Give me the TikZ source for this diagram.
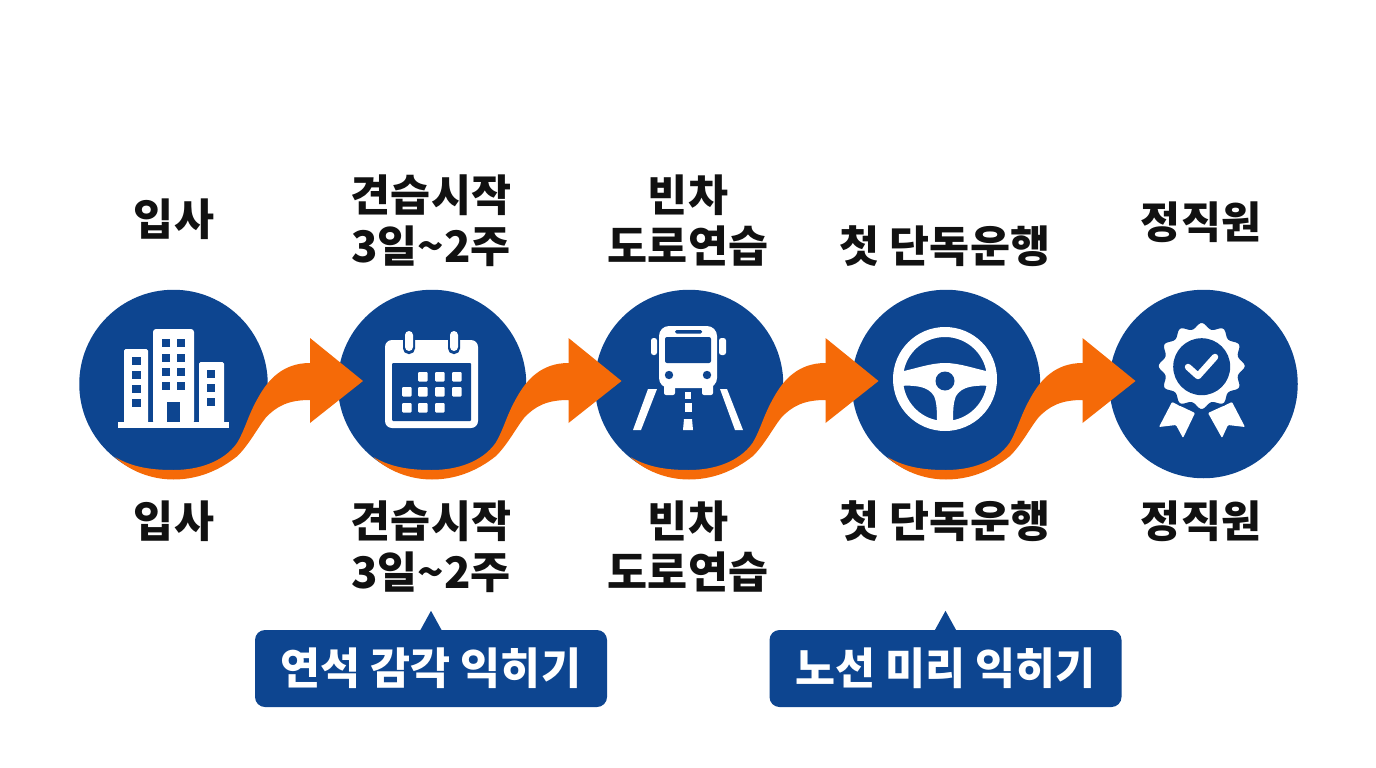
\documentclass[tikz,border=0pt]{standalone}
\usepackage{fontspec}
\setmainfont{Noto Sans CJK KR}
\definecolor{navy}{HTML}{0D4590}
\definecolor{flow}{HTML}{F56A08}
\definecolor{ink}{HTML}{111111}
\tikzset{
  disc/.style={circle,fill=navy,draw=none,minimum size=188.5pt,inner sep=0pt},
  lbl/.style={font=\fontsize{43.5}{51}\selectfont\bfseries,text=ink,align=center,inner sep=0pt},
  tag/.style={rectangle,rounded corners=10pt,fill=navy,text=white,minimum width=352pt,minimum height=77pt,
    font=\fontsize{43.5}{46}\selectfont\bfseries,inner sep=0pt},
  icon/.style={fill=white,draw=none},
  hole/.style={fill=navy,draw=none}
}
\begin{document}
\begin{tikzpicture}[x=1pt,y=-1pt]
\useasboundingbox (0,0) rectangle (1376,768);
\fill[white] (0,0) rectangle (1376,768);
% discs
\node[disc] (c1) at (173.5,384) {};
\node[disc] (c2) at (432,384) {};
\node[disc] (c3) at (689,384) {};
\node[disc] (c4) at (946,384) {};
\node[disc] (c5) at (1203.5,384) {};
% flow arrows
\foreach \i in {1,2,3,4}{
\begin{scope}[shift={(c\i.center)}]
\fill[flow] (-58.5,73) .. controls (-40,84) and (-20,86) .. (0,86)
  .. controls (25,86) and (50,78) .. (63.5,59)
  .. controls (72,45) and (74,32) .. (85,13)
  .. controls (95,-5) and (110,-21) .. (136.5,-21)
  -- (136.5,-46) -- (189.5,-3) -- (136.5,39) -- (136.5,16)
  .. controls (115,16) and (103,22) .. (92,34)
  .. controls (84,44) and (76,60) .. (64,72)
  .. controls (44,88) and (22,95.5) .. (0,95.5)
  .. controls (-22,95.5) and (-44,87) .. (-58.5,73) -- cycle;
\end{scope}}
% building
\fill[icon] (118,422) rectangle (229,428);
\fill[icon,rounded corners=1.5pt] (124,349) rectangle (148,424);
\fill[icon,rounded corners=3pt] (153,329) rectangle (194,424);
\fill[icon,rounded corners=1.5pt] (199,362) rectangle (224,424);
\foreach \y in {357,371,385,399} \fill[hole] (132,\y) rectangle +(9,7.5);
\foreach \y in {339,354,368,382} {\fill[hole] (162,\y) rectangle +(8,7.5); \fill[hole] (177,\y) rectangle +(8,7.5);}
\fill[hole] (167,402) rectangle (180,422);
\foreach \y in {370,384,398} \fill[hole] (207,\y) rectangle +(7.5,8);
% calendar
\fill[icon,rounded corners=7pt] (385,340) rectangle (478,428);
\fill[hole,rounded corners=1pt] (392,363) rectangle (471,421);
\foreach \x in {409,454}{
  \fill[hole,rounded corners=5.5pt] (\x-6,329) rectangle (\x+6,354);
  \fill[icon,rounded corners=4pt] (\x-4,331) rectangle (\x+4,351);}
\foreach \x/\y in {418/372,435/372,452/372,402/387,418/387,435/387,452/387,402/403,418/403,435/403}
  \fill[icon,rounded corners=1pt] (\x,\y) rectangle +(9.5,9.5);
% bus
\fill[icon,rounded corners=10pt] (659,326) rectangle (717,388);
\fill[icon,rounded corners=2pt] (664,380) rectangle (675,395);
\fill[icon,rounded corners=2pt] (702,380) rectangle (713,395);
\fill[hole,rounded corners=2pt] (665,337) rectangle (711,363);
\fill[hole,rounded corners=1.5pt] (675,330) rectangle (702,333.5);
\fill[icon,rounded corners=2.5pt] (651,338) rectangle (657,355);
\fill[icon,rounded corners=2.5pt] (719,338) rectangle (726,355);
\fill[hole] (669,375) circle (4.2);
\fill[hole] (707,375) circle (4.2);
\fill[icon] (648,389) -- (657,389) -- (641,430) -- (633,430) -- cycle;
\fill[icon] (720,389) -- (727,389) -- (743,430) -- (735,430) -- cycle;
\fill[icon] (685,392) rectangle (691,399);
\fill[icon] (685,403) rectangle (692,412);
\fill[icon] (684,419) -- (692,419) -- (693,430) -- (683,430) -- cycle;
% steering wheel
\fill[icon,even odd rule] (945,379) circle (52) (945,379) circle (42);
\begin{scope}
\clip (945,379) circle (44);
\fill[icon] (899,372) .. controls (915,369) and (930,363) .. (945,363)
  .. controls (960,363) and (975,369) .. (991,372)
  -- (991,386) .. controls (975,385) and (962,386) .. (956,396)
  .. controls (953,403) and (953,412) .. (953,425)
  -- (937,425) .. controls (937,412) and (937,403) .. (934,396)
  .. controls (928,386) and (915,385) .. (899,386) -- cycle;
\end{scope}
\fill[hole] (945,381) circle (9.5);
% badge
\fill[icon,rounded corners=1pt] (1172,402) -- (1195,413) -- (1183,438) -- (1176,425) -- (1159,427) -- cycle;
\fill[icon,rounded corners=1pt] (1232,402) -- (1208,413) -- (1222,438) -- (1228,425) -- (1245,427) -- cycle;
\fill[icon,draw=navy,line width=2.5pt] plot[domain=0:360,samples=145,smooth] ({1201.7+(41.5+2.8*cos(12*\x))*cos(\x)},{366+(41.5+2.8*cos(12*\x))*sin(\x)}) -- cycle;
\fill[hole] (1201.7,366.7) circle (28.5);
\draw[white,line width=6.5pt,line cap=round,line join=round] (1215,357) -- (1198,376) -- (1188,367);
% labels above
\node[lbl] (a1) at (174,219) {입사};
\node[lbl] (a2) at (431,221) {견습시작\\3일\textasciitilde 2주};
\node[lbl] (a3) at (688,221) {빈차\\도로연습};
\node[lbl] (a4) at (945,246) {첫 단독운행};
\node[lbl] (a5) at (1201,222) {정직원};
% labels below
\node[lbl] (b1) at (174,521) {입사};
\node[lbl] (b2) at (431,547) {견습시작\\3일\textasciitilde 2주};
\node[lbl] (b3) at (688,547) {빈차\\도로연습};
\node[lbl] (b4) at (945,521) {첫 단독운행};
\node[lbl] (b5) at (1201,521) {정직원};
% tags
\node[tag] (t1) at (431,668.5) {연석 감각 익히기};
\node[tag] (t2) at (945.5,668.5) {노선 미리 익히기};
\fill[navy] ([xshift=-11pt,yshift=-1pt]t1.north) -- ([yshift=19pt]t1.north) -- ([xshift=11pt,yshift=-1pt]t1.north) -- cycle;
\fill[navy] ([xshift=-11pt,yshift=-1pt]t2.north) -- ([yshift=19pt]t2.north) -- ([xshift=11pt,yshift=-1pt]t2.north) -- cycle;
\end{tikzpicture}
\end{document}
